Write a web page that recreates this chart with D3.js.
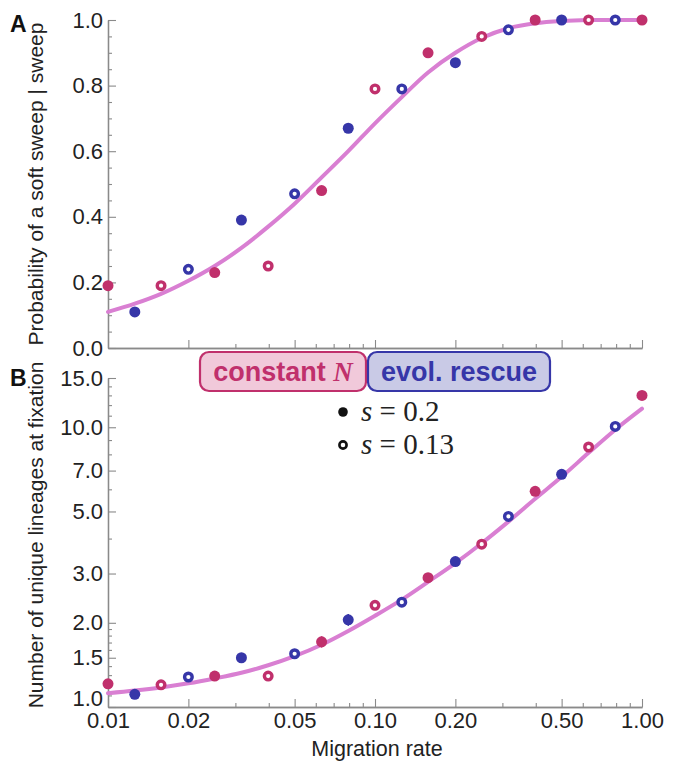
<!DOCTYPE html>
<html lang="en">
<head>
<meta charset="UTF-8">
<title>Soft sweeps vs migration rate</title>
<script src="https://d3js.org/d3.v7.min.js"></script>
<style>
  body { margin: 0; background: #fff; }
  svg { display: block; }
  .tick text { font-family: "Liberation Sans", Arial, sans-serif; fill: #222; }
</style>
</head>
<body>
<svg id="chart" width="674" height="767"></svg>
<script>
// migration rates (log-spaced, 10 per decade)
const rates = [0.01, 0.0126, 0.0158, 0.02, 0.0251, 0.0316, 0.0398, 0.05, 0.0631, 0.0794,
               0.1, 0.126, 0.158, 0.2, 0.251, 0.316, 0.398, 0.5, 0.631, 0.794, 1.0];
// which scenario / selection each point belongs to
const scenario = ["constN","rescue","constN","rescue","constN","rescue","constN","rescue","constN","rescue",
                  "constN","rescue","constN","rescue","constN","rescue","constN","rescue","constN","rescue","constN"];
const selection = [0.2,0.2,0.13,0.13,0.2,0.2,0.13,0.13,0.2,0.2,
                   0.13,0.13,0.2,0.2,0.13,0.13,0.2,0.2,0.13,0.13,0.2];

// panel A
const softProb = [0.19, 0.11, 0.19, 0.24, 0.23, 0.39, 0.25, 0.47, 0.48, 0.67,
                  0.79, 0.79, 0.90, 0.87, 0.95, 0.97, 1.0, 1.0, 1.0, 1.0, 1.0];
const softCurve = [0.11, 0.135, 0.165, 0.205, 0.25, 0.305, 0.37, 0.44, 0.52, 0.60,
                   0.685, 0.765, 0.84, 0.90, 0.945, 0.975, 0.99, 0.997, 1.0, 1.0, 1.0];

// panel B
const lineages = [1.21, 1.11, 1.20, 1.28, 1.29, 1.50, 1.29, 1.55, 1.71, 2.05,
                  2.31, 2.37, 2.90, 3.31, 3.82, 4.80, 5.90, 6.79, 8.50, 10.07, 13.0];
const lineageErr = [0.03, 0.02, 0.03, 0.03, 0.05, 0.06, 0.03, 0.04, 0.08, 0.10,
                    0.05, 0.06, 0.06, 0.10, 0.08, 0.10, 0.10, 0.10, 0.12, 0.12, 0.15];
const lineageCurve = [1.12, 1.145, 1.175, 1.215, 1.265, 1.325, 1.41, 1.52, 1.67, 1.87,
                      2.12, 2.42, 2.80, 3.27, 3.85, 4.6, 5.55, 6.65, 8.1, 9.8, 11.65];

const xMajor = [0.01, 0.02, 0.05, 0.1, 0.2, 0.5, 1.0];
const xMinor = [0.03, 0.04, 0.06, 0.07, 0.08, 0.09, 0.3, 0.4, 0.6, 0.7, 0.8, 0.9];
const yAMajor = [0, 0.2, 0.4, 0.6, 0.8, 1.0];
const yAMinor = [0.05, 0.1, 0.15, 0.25, 0.3, 0.35, 0.45, 0.5, 0.55, 0.65, 0.7, 0.75, 0.85, 0.9, 0.95];
const yBMajor = [1.0, 1.5, 2.0, 3.0, 5.0, 7.0, 10.0, 15.0];
const yBMinor = [1.1, 1.2, 1.3, 1.4, 1.6, 1.7, 1.8, 1.9, 4, 6, 8, 9, 11, 12, 13, 14];

const colors = { constN: "#c0306c", rescue: "#3636a8" };
const curveColor = "#d97fd2";
const axisColor = "#8a8a8a";

const svg = d3.select("#chart");

const x = d3.scaleLog().domain([0.01, 1]).range([108, 642]);
const yA = d3.scaleLinear().domain([0, 1]).range([348, 20]);
const yB = d3.scaleLog().domain([1, 15]).range([707, 378]);

function styleAxis(g) {
  g.select(".domain").attr("stroke", axisColor).attr("stroke-width", 1.3);
  g.selectAll(".tick line").attr("stroke", axisColor).attr("stroke-width", 1.1);
  g.selectAll(".tick text").attr("font-size", 22);
}

function drawAxes(yScale, yMaj, yMin, yFmt, baseY, showXLabels) {
  // x minor + major
  svg.append("g").attr("transform", `translate(0,${baseY})`)
    .call(d3.axisBottom(x).tickValues(xMinor).tickSize(-4).tickSizeOuter(0).tickFormat(""))
    .call(styleAxis);
  svg.append("g").attr("transform", `translate(0,${baseY})`)
    .call(d3.axisBottom(x).tickValues(xMajor).tickSize(-8).tickSizeOuter(0).tickPadding(5)
      .tickFormat(showXLabels ? d3.format(".2f") : ""))
    .call(styleAxis);
  // y minor + major
  svg.append("g").attr("transform", "translate(108,0)")
    .call(d3.axisLeft(yScale).tickValues(yMin).tickSize(-4).tickSizeOuter(0).tickFormat(""))
    .call(styleAxis);
  const ya = svg.append("g").attr("transform", "translate(108,0)")
    .call(d3.axisLeft(yScale).tickValues(yMaj).tickSize(-8).tickSizeOuter(0).tickPadding(5).tickFormat(yFmt))
    .call(styleAxis);
  return ya;
}

function drawCurve(values, yScale) {
  const line = d3.line()
    .x((d, i) => x(rates[i]))
    .y(d => yScale(d))
    .curve(d3.curveCatmullRom);
  svg.append("path")
    .attr("d", line(values))
    .attr("fill", "none")
    .attr("stroke", curveColor)
    .attr("stroke-width", 4)
    .attr("stroke-linecap", "round");
}

function drawPoints(values, yScale) {
  values.forEach((v, i) => {
    const c = colors[scenario[i]];
    const cx = x(rates[i]), cy = yScale(v);
    if (selection[i] === 0.2) {
      svg.append("circle").attr("cx", cx).attr("cy", cy).attr("r", 5.5).attr("fill", c);
    } else {
      svg.append("circle").attr("cx", cx).attr("cy", cy).attr("r", 3.8)
        .attr("fill", "#fff").attr("stroke", c).attr("stroke-width", 3.4);
    }
  });
}

// ---- panel A
drawAxes(yA, yAMajor, yAMinor, d3.format(".1f"), 348, false);
drawCurve(softCurve, yA);
drawPoints(softProb, yA);

// ---- panel B
const yAxisB = drawAxes(yB, yBMajor, yBMinor, d3.format(".1f"), 707, true);
// lift the bottom "1.0" so it clears the x labels
yAxisB.selectAll(".tick text").filter(d => d === 1.0).attr("dy", "-0.08em");
drawCurve(lineageCurve, yB);
lineages.forEach((v, i) => {
  svg.append("line")
    .attr("x1", x(rates[i])).attr("x2", x(rates[i]))
    .attr("y1", yB(v - lineageErr[i])).attr("y2", yB(v + lineageErr[i]))
    .attr("stroke", colors[scenario[i]]).attr("stroke-width", 1.5);
});
drawPoints(lineages, yB);

// axis titles and panel letters
const sans = "'Liberation Sans', Arial, sans-serif";
svg.append("text").attr("transform", "translate(43,184) rotate(-90)")
  .attr("text-anchor", "middle").attr("font-family", sans).attr("font-size", 21).attr("fill", "#222")
  .text("Probability of a soft sweep | sweep");
svg.append("text").attr("transform", "translate(43,535) rotate(-90)")
  .attr("text-anchor", "middle").attr("font-family", sans).attr("font-size", 21).attr("fill", "#222")
  .text("Number of unique lineages at fixation");
svg.append("text").attr("x", 377).attr("y", 756)
  .attr("text-anchor", "middle").attr("font-family", sans).attr("font-size", 21.5).attr("fill", "#222")
  .text("Migration rate");
svg.append("text").attr("x", 10).attr("y", 32)
  .attr("font-family", sans).attr("font-weight", "bold").attr("font-size", 23).attr("fill", "#111").text("A");
svg.append("text").attr("x", 10).attr("y", 386)
  .attr("font-family", sans).attr("font-weight", "bold").attr("font-size", 23).attr("fill", "#111").text("B");

// ---- legend boxes
const boxes = [
  { x0: 200, x1: 366, fill: "#f1c9da", stroke: "#c0306c", label: "constant ", italic: "N" },
  { x0: 368, x1: 550, fill: "#c9cae6", stroke: "#3636a8", label: "evol. rescue", italic: "" }
];
boxes.forEach(b => {
  svg.append("rect").attr("x", b.x0).attr("y", 352).attr("width", b.x1 - b.x0).attr("height", 39)
    .attr("rx", 9).attr("fill", b.fill).attr("stroke", b.stroke).attr("stroke-width", 2.2);
  const t = svg.append("text").attr("x", (b.x0 + b.x1) / 2).attr("y", 381)
    .attr("text-anchor", "middle").attr("font-family", sans).attr("font-weight", "bold")
    .attr("font-size", 27).attr("fill", b.stroke).text(b.label);
  if (b.italic) {
    t.append("tspan").attr("font-family", "'Liberation Serif', 'Times New Roman', serif")
      .attr("font-style", "italic").text(b.italic);
  }
});

// ---- selection legend
const serif = "'Liberation Serif', 'Times New Roman', serif";
[{ s: "0.2", y: 412, filled: true }, { s: "0.13", y: 445, filled: false }].forEach(d => {
  if (d.filled) {
    svg.append("circle").attr("cx", 343).attr("cy", d.y).attr("r", 4.8).attr("fill", "#111");
  } else {
    svg.append("circle").attr("cx", 343).attr("cy", d.y).attr("r", 3.6)
      .attr("fill", "#fff").attr("stroke", "#111").attr("stroke-width", 2.6);
  }
  const t = svg.append("text").attr("x", 361).attr("y", d.y + 9)
    .attr("font-family", serif).attr("font-size", 29).attr("fill", "#222");
  t.append("tspan").attr("font-style", "italic").text("s");
  t.append("tspan").text(" = " + d.s);
});
</script>
</body>
</html>
